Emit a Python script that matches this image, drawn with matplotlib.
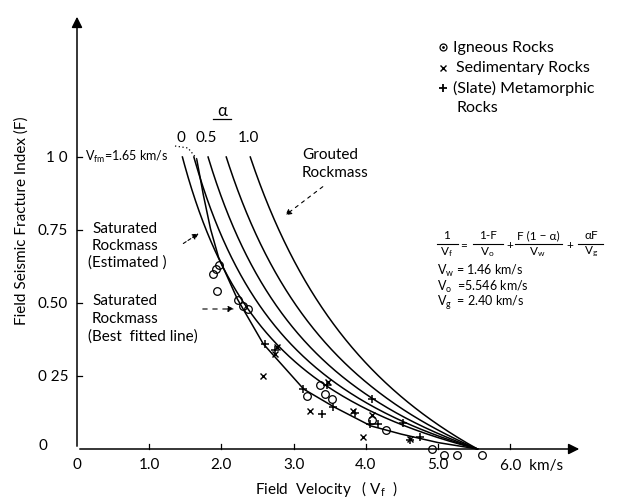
import numpy as np
import matplotlib
matplotlib.use('Agg')
import matplotlib.pyplot as plt

plt.rcParams['font.family'] = ['Lato', 'DejaVu Sans']
plt.rcParams['mathtext.fontset'] = 'custom'
plt.rcParams['mathtext.rm'] = 'Lato'
plt.rcParams['mathtext.it'] = 'Lato'

# Model constants (from the figure)
Vw = 1.46
V0 = 5.546
Vg = 2.40
alphas = [0.0, 0.25, 0.5, 0.75, 1.0]
alpha_labels = ['0', '0.5', '1.0']
alpha_label_vals = [0.0, 0.5, 1.0]

# Best fitted line
fit_v = [1.66, 1.75, 1.85, 1.96, 2.22, 2.58, 3.14, 3.56, 4.07, 4.49, 5.00, 5.55]
fit_f = [0.99, 0.87, 0.753, 0.657, 0.514, 0.36, 0.205, 0.144, 0.079, 0.051, 0.022, 0.0]

# Igneous rocks (circles)
ign_v = [1.88, 1.92, 1.96, 1.94, 2.23, 2.30, 2.37, 3.18, 3.37, 3.44, 3.53, 4.09, 4.28,
         4.92, 5.08, 5.26, 5.61]
ign_f = [0.60, 0.615, 0.63, 0.54, 0.51, 0.49, 0.48, 0.18, 0.22, 0.19, 0.17, 0.10, 0.065,
         0.0, -0.02, -0.02, -0.02]

# Sedimentary rocks (x)
sed_v = [2.58, 2.77, 2.74, 3.23, 3.48, 3.82, 4.09, 3.96, 4.61]
sed_f = [0.25, 0.35, 0.325, 0.13, 0.23, 0.13, 0.115, 0.04, 0.034]

# Metamorphic rocks (+)
met_v = [2.60, 2.74, 3.13, 3.39, 3.55, 3.85, 4.09, 4.06, 4.17, 4.52, 4.61, 4.75, 3.46]
met_f = [0.36, 0.34, 0.205, 0.12, 0.145, 0.125, 0.17, 0.085, 0.085, 0.09, 0.03, 0.04, 0.22]

xticks = [1.0, 2.0, 3.0, 4.0, 5.0]
xtick_labels = ['1.0', '2.0', '3.0', '4.0', '5.0']
yticks = [0.25, 0.5, 0.75, 1.0]
ytick_labels = ['0 25', '0.50', '0.75', '1 0']

# pixel -> data helper (figure is 618x502, origin at px (77,450))
def px(x, y):
    return ((x - 77) / 72.2, (450 - y) / 292.0)

fig = plt.figure(figsize=(6.18, 5.02), dpi=100)
ax = fig.add_axes([0, 0, 1, 1])
ax.set_xlim(px(0, 0)[0], px(618, 0)[0])
ax.set_ylim(px(0, 502)[1], px(0, 0)[1])
ax.axis('off')

# axes with arrows
ax.annotate('', xy=px(77, 15), xytext=(0, 0),
            arrowprops=dict(arrowstyle='-|>', mutation_scale=16, lw=1.1, color='black'))
ax.annotate('', xy=px(582, 450), xytext=(0, 0),
            arrowprops=dict(arrowstyle='-|>', mutation_scale=16, lw=1.1, color='black'))

dx = 5 / 72.2
dy = 5 / 292.0
for t, lab in zip(yticks, ytick_labels):
    ax.plot([0, dx], [t, t], color='black', lw=0.9)
    ax.text(px(68, 0)[0], t, lab, ha='right', va='center', fontsize=11)
ax.text(px(47, 0)[0], px(0, 446)[1], '0', ha='right', va='center', fontsize=11)
for t, lab in zip(xticks, xtick_labels):
    ax.plot([t, t], [0, dy], color='black', lw=0.9)
    ax.text(t, px(0, 465)[1], lab, ha='center', va='center', fontsize=11)
ax.plot([6, 6], [0, dy], color='black', lw=0.9)
ax.text(0, px(0, 465)[1], '0', ha='center', va='center', fontsize=11)
ax.text(px(500, 0)[0], px(0, 466)[1], '6.0  km/s', ha='left', va='center', fontsize=11)

ax.text(*px(326, 489), 'Field  Velocity   ( V$_f$  )', ha='center', va='center', fontsize=11)
ax.text(*px(22, 221), 'Field Seismic Fracture Index (F)', ha='center', va='center',
        rotation=90, fontsize=11)

# theoretical curves
F = np.linspace(0, 1, 300)
for a in alphas:
    vf = 1.0 / ((1 - F) / V0 + F * (1 - a) / Vw + a * F / Vg)
    ax.plot(vf, F, color='black', lw=1.1)

# best fitted line
ax.plot(fit_v, fit_f, color='black', lw=1.1)
ax.plot([px(175, 147)[0], px(188, 149)[0], px(197, 160)[0]],
        [px(175, 147)[1], px(188, 149)[1], px(197, 160)[1]],
        color='black', lw=0.9, ls=(0, (1, 2)))

# data points
ax.plot(ign_v, ign_f, 'o', mfc='none', mec='black', ms=5.5, mew=0.9, ls='none')
ax.plot(sed_v, sed_f, 'x', color='black', ms=4.5, mew=1.0, ls='none')
ax.plot(met_v, met_f, '+', color='black', ms=6, mew=1.1, ls='none')

# alpha labels
for a, lab in zip(alpha_label_vals, alpha_labels):
    v1 = 1.0 / ((1 - a) / Vw + a / Vg)
    ax.text(v1 - 0.02, px(0, 138)[1], lab, ha='center', va='center', fontsize=11)
ax.text(*px(222, 111), 'α', ha='center', va='center', fontsize=12)
ax.plot([px(213, 0)[0], px(231, 0)[0]], [px(0, 120)[1]] * 2, color='black', lw=0.9)

ax.text(*px(85, 157), 'V$_{fm}$=1.65 km/s', ha='left', va='center', fontsize=9)

# annotations
ax.text(*px(302, 155), 'Grouted', ha='left', va='center', fontsize=11)
ax.text(*px(302, 173), 'Rockmass', ha='left', va='center', fontsize=11)
ax.annotate('', xy=px(283, 218), xytext=px(325, 186),
            arrowprops=dict(arrowstyle='-|>', mutation_scale=9, lw=0.8, ls=(0, (3, 4)),
                            color='black'))

ax.text(*px(92, 229), 'Saturated', ha='left', va='center', fontsize=11)
ax.text(*px(92, 246), 'Rockmass', ha='left', va='center', fontsize=11)
ax.text(*px(88, 263), '(Estimated )', ha='left', va='center', fontsize=11)
ax.annotate('', xy=px(201, 233), xytext=px(181, 246),
            arrowprops=dict(arrowstyle='-|>', mutation_scale=9, lw=0.8, ls=(0, (3, 2)),
                            color='black'))

ax.text(*px(92, 301), 'Saturated', ha='left', va='center', fontsize=11)
ax.text(*px(92, 319), 'Rockmass', ha='left', va='center', fontsize=11)
ax.text(*px(88, 337), '(Best  fitted line)', ha='left', va='center', fontsize=11)
ax.annotate('', xy=px(237, 310), xytext=px(200, 310),
            arrowprops=dict(arrowstyle='-|>', mutation_scale=9, lw=0.8, ls=(0, (4, 5)),
                            color='black'))

# legend
ax.plot(*px(443, 48), 'o', mfc='none', mec='black', ms=5, mew=0.9)
ax.plot(*px(443, 48), '.', color='black', ms=2)
ax.text(*px(453, 48), 'Igneous Rocks', ha='left', va='center', fontsize=11.5)
ax.plot(*px(443, 69), 'x', color='black', ms=4, mew=1.0)
ax.text(*px(456, 68), 'Sedimentary Rocks', ha='left', va='center', fontsize=11.5)
ax.plot(*px(443, 89), '+', color='black', ms=6, mew=1.3)
ax.text(*px(453, 88), '(Slate) Metamorphic', ha='left', va='center', fontsize=11.5)
ax.text(*px(457, 108), 'Rocks', ha='left', va='center', fontsize=11.5)

# formula
fs = 8.5
ax.text(*px(447, 236), '1', ha='center', va='center', fontsize=fs)
ax.plot([px(437, 0)[0], px(458, 0)[0]], [px(0, 245)[1]] * 2, color='black', lw=0.8)
ax.text(*px(446, 252), 'V$_f$', ha='center', va='center', fontsize=fs)
ax.text(*px(464, 246), '=', ha='center', va='center', fontsize=fs)
ax.text(*px(488, 236), '1-F', ha='center', va='center', fontsize=fs)
ax.plot([px(473, 0)[0], px(503, 0)[0]], [px(0, 245)[1]] * 2, color='black', lw=0.8)
ax.text(*px(487, 252), 'V$_o$', ha='center', va='center', fontsize=fs)
ax.text(*px(510, 246), '+', ha='center', va='center', fontsize=fs)
ax.text(*px(538, 236), 'F (1 − α)', ha='center', va='center', fontsize=fs)
ax.plot([px(515, 0)[0], px(562, 0)[0]], [px(0, 245)[1]] * 2, color='black', lw=0.8)
ax.text(*px(537, 252), 'V$_w$', ha='center', va='center', fontsize=fs)
ax.text(*px(570, 246), '+', ha='center', va='center', fontsize=fs)
ax.text(*px(591, 236), 'αF', ha='center', va='center', fontsize=fs)
ax.plot([px(578, 0)[0], px(603, 0)[0]], [px(0, 245)[1]] * 2, color='black', lw=0.8)
ax.text(*px(591, 252), 'V$_g$', ha='center', va='center', fontsize=fs)

ax.text(*px(437, 271), 'V$_w$ = 1.46 km/s', ha='left', va='center', fontsize=9)
ax.text(*px(437, 287), 'V$_o$  =5.546 km/s', ha='left', va='center', fontsize=9)
ax.text(*px(437, 303), 'V$_g$  = 2.40 km/s', ha='left', va='center', fontsize=9)

fig.savefig('out.png', dpi=100)
